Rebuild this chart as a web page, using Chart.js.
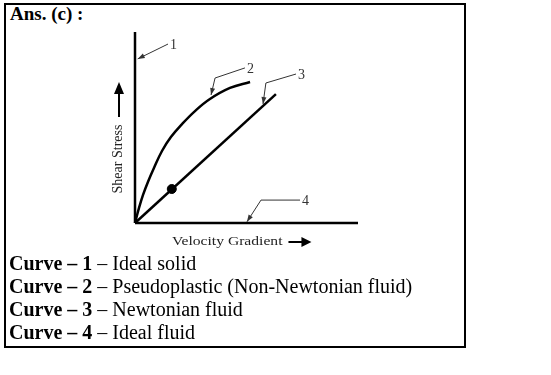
<!DOCTYPE html>
<html>
<head>
<meta charset="utf-8">
<script src="https://cdn.jsdelivr.net/npm/chart.js@4.4.1/dist/chart.umd.min.js"></script>
<style>
  html, body { margin: 0; padding: 0; background: #fff; }
  #wrap { position: relative; width: 551px; height: 375px; font-family: "Liberation Serif", "Times New Roman", serif; color: #000; }
  #box { position: absolute; left: 4px; top: 3px; width: 458px; height: 341px; border: 2px solid #000; }
  #chart { position: absolute; left: 0; top: 0; }
  .ans { position: absolute; left: 10px; top: 3px; font-size: 19px; font-weight: bold; }
  .lines { position: absolute; left: 9px; top: 252px; font-size: 20px; line-height: 23px; }
</style>
</head>
<body>
<div id="wrap">
  <div id="box"></div>
  <div class="ans">Ans. (c) :</div>
  <canvas id="chart" width="551" height="375"></canvas>
  <div class="lines" id="lines"></div>
</div>
<script>
// curve data (x: velocity gradient, y: shear stress, 0..100 arbitrary units)
const curve1X = [0, 0];
const curve1Y = [0, 100];
const curve2X = [0, 1.8, 3.6, 5.8, 8.5, 12.1, 16.1, 21.1, 26.9, 33.6, 42.6, 51.6];
const curve2Y = [0, 7.9, 14.7, 21.5, 28.8, 37.7, 45.0, 51.8, 58.6, 64.9, 70.7, 73.8];
const curve3X = [0, 63.2];
const curve3Y = [0, 67.5];
const curve4X = [0, 100];
const curve4Y = [0, 0];
const dotX = [16.5];
const dotY = [17.8];

// callout labels: arrow tip, optional elbow, end of leader
const labelNames = ['1', '2', '3', '4'];
const labelTips = [[1.2, 85.9], [34.1, 67.0], [57.4, 62.3], [50.2, 0.6]];
const labelElbows = [null, [35.9, 75.9], [58.7, 73.3], [56.5, 12.0]];
const labelEnds = [[14.8, 93.7], [49.3, 81.2], [72.2, 78.0], [74.0, 12.0]];

const curveNames = ['Ideal solid', 'Pseudoplastic (Non-Newtonian fluid)', 'Newtonian fluid', 'Ideal fluid'];

document.getElementById('lines').innerHTML = curveNames
  .map((n, i) => '<div><b>Curve \u2013 ' + (i + 1) + '</b> \u2013 ' + n + '</div>')
  .join('');

const pts = (xs, ys) => xs.map((x, i) => ({ x, y: ys[i] }));

const lineStyle = {
  borderColor: '#000',
  borderWidth: 2.5,
  pointRadius: 0,
  showLine: true,
  fill: false,
  clip: false
};

function arrowHead(ctx, x0, y0, x1, y1, len, half) {
  const a = Math.atan2(y1 - y0, x1 - x0);
  ctx.beginPath();
  ctx.moveTo(x1, y1);
  ctx.lineTo(x1 - len * Math.cos(a) + half * Math.sin(a), y1 - len * Math.sin(a) - half * Math.cos(a));
  ctx.lineTo(x1 - len * Math.cos(a) - half * Math.sin(a), y1 - len * Math.sin(a) + half * Math.cos(a));
  ctx.closePath();
  ctx.fill();
}

const annotations = {
  id: 'annotations',
  afterDatasetsDraw(chart) {
    const { ctx, chartArea, scales } = chart;
    const px = v => scales.x.getPixelForValue(v);
    const py = v => scales.y.getPixelForValue(v);
    ctx.save();

    // callouts
    ctx.strokeStyle = '#333';
    ctx.fillStyle = '#333';
    ctx.lineWidth = 1;
    ctx.font = '14px "Liberation Serif", serif';
    ctx.textBaseline = 'middle';
    labelNames.forEach((name, i) => {
      const tip = labelTips[i], elb = labelElbows[i], end = labelEnds[i];
      const path = [end];
      if (elb) path.push(elb);
      path.push(tip);
      ctx.beginPath();
      ctx.moveTo(px(path[0][0]), py(path[0][1]));
      path.slice(1).forEach(p => ctx.lineTo(px(p[0]), py(p[1])));
      ctx.stroke();
      const prev = path[path.length - 2];
      arrowHead(ctx, px(prev[0]), py(prev[1]), px(tip[0]), py(tip[1]), 7, 2.5);
      ctx.fillText(name, px(end[0]) + 2, py(end[1]) + 1);
    });

    // x title, slightly stretched like the source scan
    ctx.fillStyle = '#222';
    ctx.strokeStyle = '#000';
    ctx.font = '13px "Liberation Serif", serif';
    ctx.textAlign = 'left';
    const xtX = chartArea.left + 37, xtY = chartArea.bottom + 19;
    const stretch = 1.2;
    ctx.save();
    ctx.translate(xtX, xtY);
    ctx.scale(stretch, 1);
    ctx.fillText('Velocity Gradient', 0, 0);
    ctx.restore();
    const tw = ctx.measureText('Velocity Gradient').width * stretch;
    ctx.lineWidth = 2;
    ctx.beginPath();
    ctx.moveTo(xtX + tw + 6, xtY);
    ctx.lineTo(xtX + tw + 22, xtY);
    ctx.stroke();
    ctx.fillStyle = '#000';
    arrowHead(ctx, xtX + tw + 6, xtY, xtX + tw + 29, xtY, 10, 5);

    // y title
    ctx.save();
    ctx.translate(chartArea.left - 17, chartArea.top + 127);
    ctx.rotate(-Math.PI / 2);
    ctx.textAlign = 'center';
    ctx.fillStyle = '#222';
    ctx.font = '14px "Liberation Serif", serif';
    ctx.fillText('Shear Stress', 0, 0);
    ctx.restore();
    const ax = chartArea.left - 16;
    ctx.beginPath();
    ctx.moveTo(ax, chartArea.top + 85);
    ctx.lineTo(ax, chartArea.top + 60);
    ctx.stroke();
    arrowHead(ctx, ax, chartArea.top + 85, ax, chartArea.top + 50, 12, 5);

    ctx.restore();
  }
};

new Chart(document.getElementById('chart'), {
  type: 'scatter',
  data: {
    datasets: [
      { label: 'Curve 1', data: pts(curve1X, curve1Y), ...lineStyle },
      { label: 'Curve 2', data: pts(curve2X, curve2Y), ...lineStyle, tension: 0.4 },
      { label: 'Curve 3', data: pts(curve3X, curve3Y), ...lineStyle },
      { label: 'Curve 4', data: pts(curve4X, curve4Y), ...lineStyle },
      { label: 'Point', data: pts(dotX, dotY), showLine: false, pointRadius: 4.5, backgroundColor: '#000', borderColor: '#000', clip: false }
    ]
  },
  options: {
    responsive: false,
    animation: false,
    layout: { padding: { left: 135, right: 193, top: 32, bottom: 152 } },
    plugins: { legend: { display: false }, tooltip: { enabled: false } },
    scales: {
      x: { type: 'linear', min: 0, max: 100, display: false },
      y: { type: 'linear', min: 0, max: 100, display: false }
    }
  },
  plugins: [annotations]
});
</script>
</body>
</html>
